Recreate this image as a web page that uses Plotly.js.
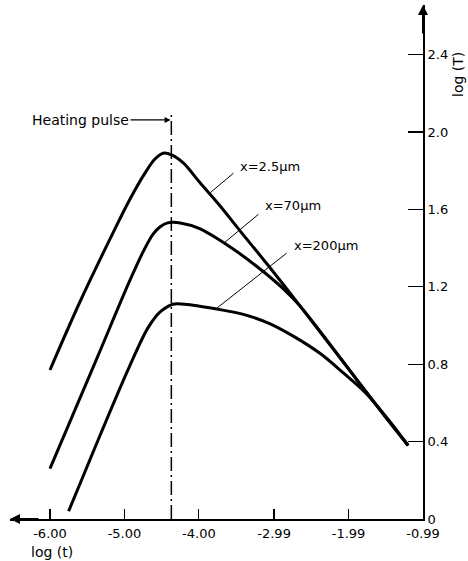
<!DOCTYPE html>
<html>
<head>
<meta charset="utf-8">
<script src="https://cdn.plot.ly/plotly-3.0.1.min.js"></script>
<style>html,body{margin:0;padding:0;background:#fff;}#chart{width:468px;height:561px;}</style>
</head>
<body>
<div id="chart"></div>
<script>
// ---- data (log t, log T) ----
var curve1X = [-6.00, -5.60, -5.19, -4.93, -4.72, -4.59, -4.48, -4.36, -4.21, -3.99, -3.72, -3.45, -3.09, -2.64, -1.80, -1.50, -1.19];
var curve1Y = [0.77, 1.12, 1.45, 1.65, 1.79, 1.86, 1.89, 1.88, 1.84, 1.74, 1.62, 1.49, 1.32, 1.10, 0.68, 0.53, 0.38];

var curve2X = [-6.00, -5.37, -4.93, -4.75, -4.62, -4.52, -4.42, -4.25, -3.99, -3.54, -3.14, -2.84, -2.64, -1.80, -1.50, -1.19];
var curve2Y = [0.26, 0.83, 1.23, 1.38, 1.47, 1.51, 1.53, 1.53, 1.50, 1.395, 1.28, 1.18, 1.10, 0.68, 0.53, 0.38];

var curve3X = [-5.75, -5.33, -4.93, -4.68, -4.52, -4.35, -4.19, -3.76, -3.38, -3.05, -2.71, -2.37, -2.06, -1.77, -1.50, -1.19];
var curve3Y = [0.04, 0.43, 0.79, 0.99, 1.07, 1.11, 1.11, 1.085, 1.055, 1.01, 0.94, 0.855, 0.755, 0.655, 0.535, 0.38];

var seriesNames = ["x=2.5\u03bcm", "x=70\u03bcm", "x=200\u03bcm"];

var pulseX = [-4.37, -4.37];
var pulseY = [0, 2.10];

var xTickVals = [-6.00, -5.00, -4.00, -2.99, -1.99, -0.99];
var xTickText = ["-6.00", "-5.00", "-4.00", "-2.99", "-1.99", "-0.99"];
var yTickVals = [0, 0.4, 0.8, 1.2, 1.6, 2.0, 2.4];
var yTickText = ["0", "0.4", "0.8", "1.2", "1.6", "2.0", "2.4"];

// ---- chart ----
var font = "DejaVu Sans, sans-serif";
var curveLine = {color: "#000", width: 3, shape: "spline", smoothing: 1};

var traces = [
  {x: curve1X, y: curve1Y, mode: "lines", line: curveLine, name: seriesNames[0], hoverinfo: "skip"},
  {x: curve2X, y: curve2Y, mode: "lines", line: curveLine, name: seriesNames[1], hoverinfo: "skip"},
  {x: curve3X, y: curve3Y, mode: "lines", line: curveLine, name: seriesNames[2], hoverinfo: "skip"},
  {x: pulseX, y: pulseY, mode: "lines", line: {color: "#000", width: 1.5, dash: "14px,4px,2px,4px"}, hoverinfo: "skip"}
];

var leader = function (x, y, ax, ay) {
  return {x: x, y: y, xref: "x", yref: "y", text: "", showarrow: true, arrowhead: 0,
          arrowwidth: 1, arrowcolor: "#000", ax: ax, ay: ay, standoff: 0, startstandoff: 0};
};
var label = function (x, y, t) {
  return {x: x, y: y, xref: "x", yref: "y", text: t, showarrow: false, xanchor: "left",
          yanchor: "middle", font: {family: font, size: 13, color: "#000"}};
};

var layout = {
  width: 468, height: 561,
  margin: {l: 10, r: 45, t: 5, b: 42},
  paper_bgcolor: "#fff", plot_bgcolor: "#fff",
  showlegend: false,
  font: {family: font, size: 13, color: "#000"},
  xaxis: {
    range: [-6.537, -0.99], showgrid: false, zeroline: false,
    showline: true, linecolor: "#000", linewidth: 2,
    ticks: "inside", ticklen: 10, tickwidth: 1.2, tickcolor: "#000",
    tickvals: xTickVals, ticktext: xTickText, ticklabelstandoff: 1,
    tickfont: {family: font, size: 13, color: "#000"}
  },
  yaxis: {
    range: [0, 2.656], side: "right", showgrid: false, zeroline: false,
    showline: true, linecolor: "#000", linewidth: 2,
    ticks: "inside", ticklen: 15, tickwidth: 1.2, tickcolor: "#000",
    tickvals: yTickVals, ticktext: yTickText,
    tickfont: {family: font, size: 13, color: "#000"}
  },
  annotations: [
    // axis arrows
    {x: 0, y: 0, xref: "paper", yref: "y", text: "", showarrow: true, arrowhead: 2, arrowsize: 1,
     arrowwidth: 2, arrowcolor: "#000", ax: 30, ay: 0, standoff: 0},
    {x: -0.99, y: 1, xref: "x", yref: "paper", text: "", showarrow: true, arrowhead: 2, arrowsize: 1,
     arrowwidth: 2, arrowcolor: "#000", ax: 0, ay: 30, standoff: 0},
    // axis titles
    {x: 0.102, y: -0.064, xref: "paper", yref: "paper", text: "log (t)", showarrow: false,
     xanchor: "center", yanchor: "middle", font: {family: font, size: 14, color: "#000"}},
    {x: 1.085, y: 0.864, xref: "paper", yref: "paper", text: "log (T)", showarrow: false, textangle: -90,
     xanchor: "center", yanchor: "middle", font: {family: font, size: 14, color: "#000"}},
    // heating pulse
    {x: -4.38, y: 2.062, xref: "x", yref: "y", text: "Heating pulse", showarrow: true, arrowhead: 2,
     arrowsize: 1, arrowwidth: 1.2, arrowcolor: "#000", ax: -90, ay: 0, standoff: 0,
     font: {family: font, size: 14, color: "#000"}},
    // curve labels
    label(-3.475, 1.824, seriesNames[0]),
    leader(-3.851, 1.685, 25, -21),
    label(-3.139, 1.618, seriesNames[1]),
    leader(-3.663, 1.426, 36, -30),
    label(-2.750, 1.411, seriesNames[2]),
    leader(-3.757, 1.090, 71, -56)
  ]
};

Plotly.newPlot("chart", traces, layout, {staticPlot: true, displayModeBar: false});
</script>
</body>
</html>
